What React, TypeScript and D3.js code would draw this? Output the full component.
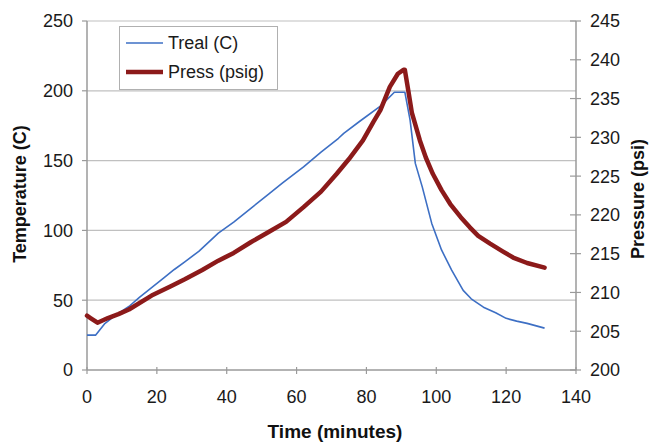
import React from "react";
import * as d3 from "d3";

const tempTime = [0, 2.5, 5, 8, 12, 15, 18.5, 22, 25, 28, 32, 35, 37.6, 42, 47, 52, 56, 62, 67, 72, 73.5, 78, 84, 88, 91, 92.5, 94, 96, 98.7, 101.5, 104.4, 107.7, 110, 113.5, 117, 120, 123, 126, 131];
const tempValues = [25, 25, 33, 39, 45.5, 52, 59, 66, 72, 77.5, 85, 92, 98, 106, 116, 126, 134, 145.5, 156, 166, 169.5, 178, 189, 199, 199, 179, 148, 131, 105, 86, 71.5, 57, 51, 45, 41, 37, 35, 33.4, 30];

const pressTime = [0, 1, 3, 6, 9, 12, 18.5, 24, 28, 33, 37.6, 42, 47, 52, 57, 62, 67, 71.5, 75, 79, 82, 84, 86.7, 89, 90.6, 91, 92, 93, 95.3, 97, 99, 101.5, 104, 107, 109.6, 112, 115.4, 119, 122, 126, 131];
const pressValues = [207, 206.7, 206.1, 206.7, 207.2, 207.8, 209.6, 210.8, 211.7, 212.9, 214.1, 215.1, 216.5, 217.8, 219.1, 221, 223, 225.3, 227.2, 229.6, 232, 233.5, 236.5, 238.2, 238.7, 238.7, 236, 233.2, 229.6, 227.4, 225.3, 223.2, 221.4, 219.7, 218.4, 217.3, 216.3, 215.3, 214.5, 213.8, 213.2];

const xTicks = [0, 20, 40, 60, 80, 100, 120, 140];
const leftTicks = [0, 50, 100, 150, 200, 250];
const rightTicks = [200, 205, 210, 215, 220, 225, 230, 235, 240, 245];
const seriesNames = ["Treal (C)", "Press (psig)"];

export default function App() {
  const W = 649, H = 442;
  const L = 87, R = 576, T = 21, B = 370;
  const x = d3.scaleLinear().domain([0, 140]).range([L, R]);
  const yL = d3.scaleLinear().domain([0, 250]).range([B, T]);
  const yR = d3.scaleLinear().domain([200, 245]).range([B, T]);
  const tempPts: [number, number][] = tempTime.map((t, i) => [t, tempValues[i]]);
  const pressPts: [number, number][] = pressTime.map((t, i) => [t, pressValues[i]]);
  const lineT = d3.line<[number, number]>().x(d => x(d[0])).y(d => yL(d[1]));
  const lineP = d3.line<[number, number]>().x(d => x(d[0])).y(d => yR(d[1]));
  const font = "'Liberation Sans', Arial, sans-serif";
  const blue = "#3d6fc4";
  const red = "#8c1a1a";
  const tickFs = 18;
  return (
    <svg width={W} height={H} style={{ position: "absolute", left: 0, top: 0 }} fontFamily={font}>
      <rect x={0} y={0} width={W} height={H} fill="#fff" />
      {leftTicks.filter(v => v > 0).map(v => (
        <line key={"g" + v} x1={L} x2={R} y1={yL(v)} y2={yL(v)} stroke="#c0c0c0" strokeWidth={1.2} />
      ))}
      <line x1={L} x2={L} y1={T} y2={B} stroke="#9a9a9a" strokeWidth={1.5} />
      <line x1={L} x2={R} y1={B} y2={B} stroke="#9a9a9a" strokeWidth={1.5} />
      <line x1={R} x2={R} y1={T} y2={B} stroke="#9a9a9a" strokeWidth={1.5} />
      {leftTicks.map(v => (
        <g key={"l" + v}>
          <line x1={L - 5} x2={L} y1={yL(v)} y2={yL(v)} stroke="#9a9a9a" strokeWidth={1.2} />
          <text x={73} y={yL(v)} dy="0.36em" textAnchor="end" fontSize={tickFs} fill="#1a1a1a">{v}</text>
        </g>
      ))}
      {rightTicks.map(v => (
        <g key={"r" + v}>
          <line x1={R - 6} x2={R + 5} y1={yR(v)} y2={yR(v)} stroke="#9a9a9a" strokeWidth={1.2} />
          <text x={590} y={yR(v)} dy="0.36em" textAnchor="start" fontSize={tickFs} fill="#1a1a1a">{v}</text>
        </g>
      ))}
      {xTicks.map(v => (
        <g key={"x" + v}>
          <line x1={x(v)} x2={x(v)} y1={B - 3} y2={B + 4} stroke="#9a9a9a" strokeWidth={1.2} />
          <text x={x(v)} y={396.5} dy="0.36em" textAnchor="middle" fontSize={tickFs} fill="#1a1a1a">{v}</text>
        </g>
      ))}
      <path d={lineT(tempPts) || ""} fill="none" stroke={blue} strokeWidth={1.6} strokeLinejoin="round" />
      <path d={lineP(pressPts) || ""} fill="none" stroke={red} strokeWidth={4.5} strokeLinejoin="round" strokeLinecap="round" />
      <rect x={119.5} y={26.5} width={158} height={63} fill="#fff" stroke="#b0b0b0" strokeWidth={1} />
      <line x1={126} x2={163} y1={43} y2={43} stroke={blue} strokeWidth={1.6} />
      <line x1={126} x2={163} y1={72} y2={72} stroke={red} strokeWidth={4.5} />
      <text x={168} y={43} dy="0.36em" fontSize={18} fill="#1a1a1a">{seriesNames[0]}</text>
      <text x={168} y={72} dy="0.36em" fontSize={18} fill="#1a1a1a">{seriesNames[1]}</text>
      <text transform="translate(26,194) rotate(-90)" textAnchor="middle" fontSize={18} fontWeight="bold" fill="#111">Temperature (C)</text>
      <text transform="translate(644,199) rotate(-90)" textAnchor="middle" fontSize={18} fontWeight="bold" fill="#111">Pressure (psi)</text>
      <text x={335} y={438} textAnchor="middle" fontSize={19} fontWeight="bold" fill="#111">Time (minutes)</text>
    </svg>
  );
}
